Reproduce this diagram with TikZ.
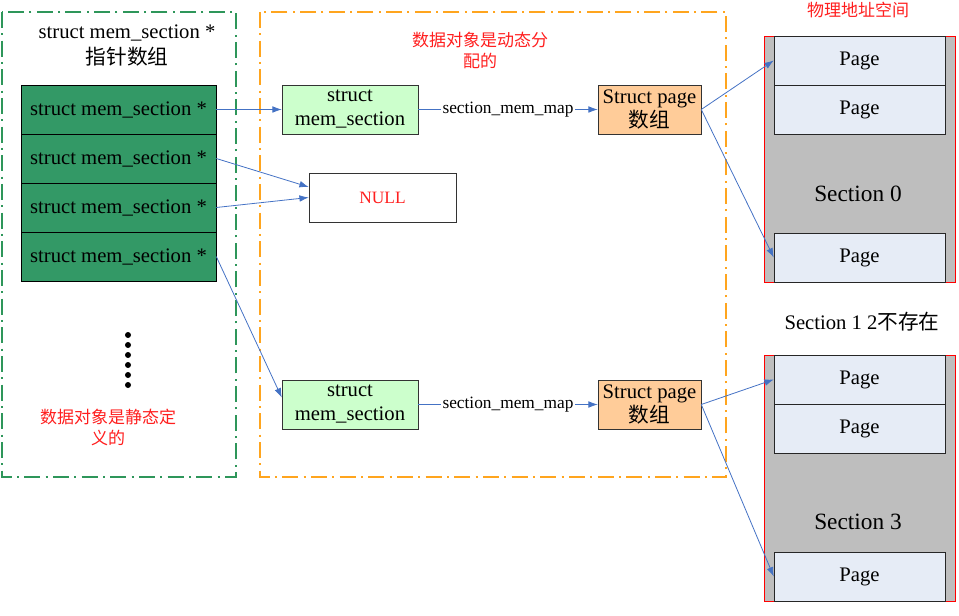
\documentclass[tikz,border=0pt]{standalone}
\usepackage{fontspec}
\setmainfont{Liberation Serif}
\newfontfamily\cjk{Noto Sans CJK SC}
\usetikzlibrary{arrows.meta,calc}
\definecolor{frgreen}{RGB}{46,150,90}
\definecolor{frorange}{RGB}{255,165,30}
\definecolor{ptrgreen}{RGB}{51,153,102}
\definecolor{lgreen}{RGB}{204,255,204}
\definecolor{lorange}{RGB}{255,204,153}
\definecolor{arrblue}{RGB}{68,114,196}
\definecolor{txtred}{RGB}{255,30,30}
\definecolor{secgray}{RGB}{190,190,190}
\definecolor{pagefill}{RGB}{230,236,246}
\tikzset{
  ptrbox/.style={draw=black, fill=ptrgreen, minimum width=146.25pt, minimum height=36.75pt, inner sep=0pt, font=\fontsize{15.5}{18}\selectfont},
  msbox/.style={draw=black!80, fill=lgreen, minimum width=102pt, minimum height=36.75pt, inner sep=0pt, align=center, font=\fontsize{15.5}{18}\selectfont},
  pgbox/.style={draw=black!80, fill=lorange, minimum width=77.25pt, minimum height=36.75pt, inner sep=0pt, align=center, font=\fontsize{15.5}{18}\selectfont},
  nullbox/.style={draw=black!80, fill=white, minimum width=110.25pt, minimum height=36.75pt, inner sep=0pt, text=txtred, font=\fontsize{13}{15}\selectfont},
  pagebox/.style={draw=black!85, fill=pagefill, minimum width=128.25pt, minimum height=36.75pt, inner sep=0pt, font=\fontsize{15.5}{18}\selectfont},
  secbox/.style={draw=red, fill=secgray, line width=0.6pt},
  conn/.style={draw=arrblue, line width=0.6pt, -{Latex[length=7pt,width=5pt]}},
  frame/.style={line width=1.5pt, dash pattern=on 12pt off 4pt on 1.5pt off 4pt},
  redtxt/.style={text=txtred, align=center, font=\cjk\fontsize{12.75}{15.75}\selectfont},
  dotmark/.style={circle, fill=black, inner sep=0pt, minimum size=4.5pt}
}
\begin{document}
\begin{tikzpicture}[x=0.75pt, y=-0.75pt]
\useasboundingbox (0,0) rectangle (959,616);
% frames
\draw[frame, draw=frgreen] (2,12) rectangle (236,477);
\draw[frame, draw=frorange] (260,12) rectangle (726,477);
% left title
\node[align=center, font=\fontsize{15.5}{19.5}\selectfont] (ttl) at (127,46) {struct mem\_section *\\{\cjk 指针数组}};
% pointer array
\node[ptrbox] (p1) at (118.5,109.5) {struct mem\_section *};
\node[ptrbox] (p2) at (118.5,158.5) {struct mem\_section *};
\node[ptrbox] (p3) at (118.5,207.5) {struct mem\_section *};
\node[ptrbox] (p4) at (118.5,256.5) {struct mem\_section *};
% dots
\foreach \i in {0,...,5} { \node[dotmark] (d\i) at (128,335+10*\i) {}; }
\node[redtxt] (stat) at (108,427) {数据对象是静态定\\义的};
\node[redtxt] (dyn) at (480,50.5) {数据对象是动态分\\配的};
% middle boxes
\node[msbox] (g1) at (350,109.5) {struct\\mem\_section};
\node[pgbox] (o1) at (649.5,109.5) {Struct page\\{\cjk 数组}};
\node[nullbox] (nl) at (382.5,197.5) {NULL};
\node[msbox] (g2) at (350,404.5) {struct\\mem\_section};
\node[pgbox] (o2) at (649.5,404.5) {Struct page\\{\cjk 数组}};
% physical address space
\node[text=txtred, font=\cjk\fontsize{12.75}{15}\selectfont] (phys) at (858,10) {物理地址空间};
\draw[secbox] (764,36) rectangle (955,282);
\draw[secbox] (764,355) rectangle (955,601);
\node[pagebox] (pg1) at (859.5,60.5) {Page};
\node[pagebox] (pg2) at (859.5,109.5) {Page};
\node[pagebox] (pg3) at (859.5,257.5) {Page};
\node[font=\fontsize{17.5}{20}\selectfont] (s0) at (858,194) {Section 0};
\node[font=\fontsize{15.5}{18}\selectfont] (s12) at (862,322) {Section 1 2{\cjk 不存在}};
\node[pagebox] (pg4) at (859.5,379.5) {Page};
\node[pagebox] (pg5) at (859.5,428.5) {Page};
\node[pagebox] (pg6) at (859.5,576.5) {Page};
\node[font=\fontsize{17.5}{20}\selectfont] (s3) at (858,522) {Section 3};
% connectors
\draw[conn] (p1.east) -- (g1.west);
\draw[conn] (p2.east) -- ($(nl.west)+(0,-10.5)$);
\draw[conn] (p3.east) -- (nl.west);
\draw[conn] (p4.east) -- ($(g2.west)+(0,-7)$);
\draw[conn] (g1.east) -- node[fill=white, inner sep=1pt, text=black, font=\fontsize{13}{15}\selectfont] {section\_mem\_map} (o1.west);
\draw[conn] (g2.east) -- node[fill=white, inner sep=1pt, text=black, font=\fontsize{13}{15}\selectfont] {section\_mem\_map} (o2.west);
\draw[conn] (o1.east) -- (pg1.west);
\draw[conn] (o1.east) -- (pg3.west);
\draw[conn] (o2.east) -- (pg4.west);
\draw[conn] (o2.east) -- (pg6.west);
\end{tikzpicture}
\end{document}
